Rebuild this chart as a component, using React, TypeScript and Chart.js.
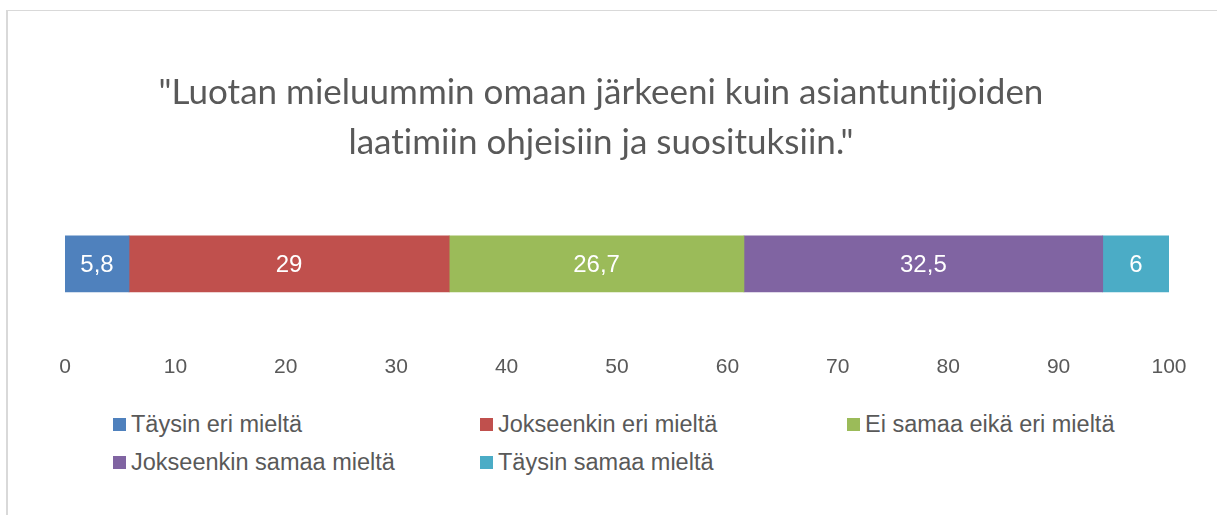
import React, { useEffect, useRef } from "react";
import { Chart, registerables } from "chart.js";

Chart.register(...registerables);

const categories = [""];
const seriesLabels = [
  "Täysin eri mieltä",
  "Jokseenkin eri mieltä",
  "Ei samaa eikä eri mieltä",
  "Jokseenkin samaa mieltä",
  "Täysin samaa mieltä",
];
const seriesValues = [5.8, 29, 26.7, 32.5, 6];
const seriesColors = ["#4F81BD", "#C0504D", "#9BBB59", "#8064A2", "#4BACC6"];
const titleLines = [
  "\"Luotan mieluummin omaan järkeeni kuin asiantuntijoiden",
  "laatimiin ohjeisiin ja suosituksiin.\"",
];
const axisMin = 0;
const axisMax = 100;
const axisStep = 10;

const noLigaturePlugin = {
  id: "noLigatures",
  beforeDraw(chart: any) {
    try {
      chart.ctx.letterSpacing = "0.01px";
    } catch (e) {}
  },
};

const dataLabelPlugin = {
  id: "dataLabels",
  afterDatasetsDraw(chart: any) {
    const ctx = chart.ctx;
    ctx.save();
    ctx.font = "24px 'Liberation Sans', Arial, sans-serif";
    ctx.fillStyle = "#FFFFFF";
    ctx.textAlign = "center";
    ctx.textBaseline = "middle";
    chart.data.datasets.forEach((ds: any, i: number) => {
      const meta = chart.getDatasetMeta(i);
      meta.data.forEach((el: any, j: number) => {
        const v = ds.data[j];
        const cx = (el.x + el.base) / 2;
        ctx.fillText(String(v).replace(".", ","), cx, el.y + 1);
      });
    });
    ctx.restore();
  },
};

export default function App() {
  const ref = useRef<HTMLCanvasElement | null>(null);

  useEffect(() => {
    if (!ref.current) return;
    const chart = new Chart(ref.current, {
      type: "bar",
      data: {
        labels: categories,
        datasets: seriesLabels.map((label, i) => ({
          label,
          data: [seriesValues[i]],
          backgroundColor: seriesColors[i],
          borderWidth: 0,
          barThickness: 56,
        })),
      },
      options: {
        indexAxis: "y",
        animation: false,
        responsive: false,
        maintainAspectRatio: false,
        layout: { padding: { left: 33, right: 48, top: 0, bottom: 17 } },
        plugins: {
          legend: { display: false },
          tooltip: { enabled: false },
          title: {
            display: true,
            text: titleLines,
            color: "#595959",
            font: { family: "Lato, 'Open Sans', sans-serif", size: 35, weight: "normal", lineHeight: 50 / 35 },
            padding: { top: 68, bottom: 16 },
          },
        },
        scales: {
          x: {
            stacked: true,
            min: axisMin,
            max: axisMax,
            grid: { display: false },
            border: { display: false },
            ticks: {
              stepSize: axisStep,
              color: "#595959",
              padding: 3,
              font: { family: "'Liberation Sans', Arial, sans-serif", size: 21 },
            },
          },
          y: {
            stacked: true,
            display: true,
            grid: { display: false },
            border: { display: false },
            ticks: { display: false },
            afterFit: (scale: any) => {
              scale.width = 32;
            },
          },
        },
      },
      plugins: [noLigaturePlugin, dataLabelPlugin],
    });
    return () => chart.destroy();
  }, []);

  const colX = [113, 480, 847];
  const rowY = [417, 455];

  return (
    <div style={{ position: "fixed", left: 0, top: 0, width: 1217, height: 515, background: "#fff", overflow: "hidden" }}>
      <div
        style={{
          position: "absolute",
          left: 6,
          top: 10,
          right: -2,
          bottom: -2,
          borderTop: "1px solid #d9d9d9",
          borderLeft: "2px solid #d9d9d9",
        }}
      />
      <canvas ref={ref} width={1217} height={400} style={{ position: "absolute", left: 0, top: 0 }} />
      {seriesLabels.map((label, i) => {
        const x = colX[i % 3];
        const y = rowY[Math.floor(i / 3)];
        return (
          <div
            key={label}
            style={{
              position: "absolute",
              left: x,
              top: y - 6,
              height: 26,
              display: "flex",
              alignItems: "center",
              whiteSpace: "nowrap",
              fontFamily: "'Liberation Sans', Arial, sans-serif",
              fontSize: 23.5,
              color: "#595959",
            }}
          >
            <span style={{ display: "inline-block", width: 13, height: 13, background: seriesColors[i], marginRight: 5 }} />
            <span>{label}</span>
          </div>
        );
      })}
    </div>
  );
}
